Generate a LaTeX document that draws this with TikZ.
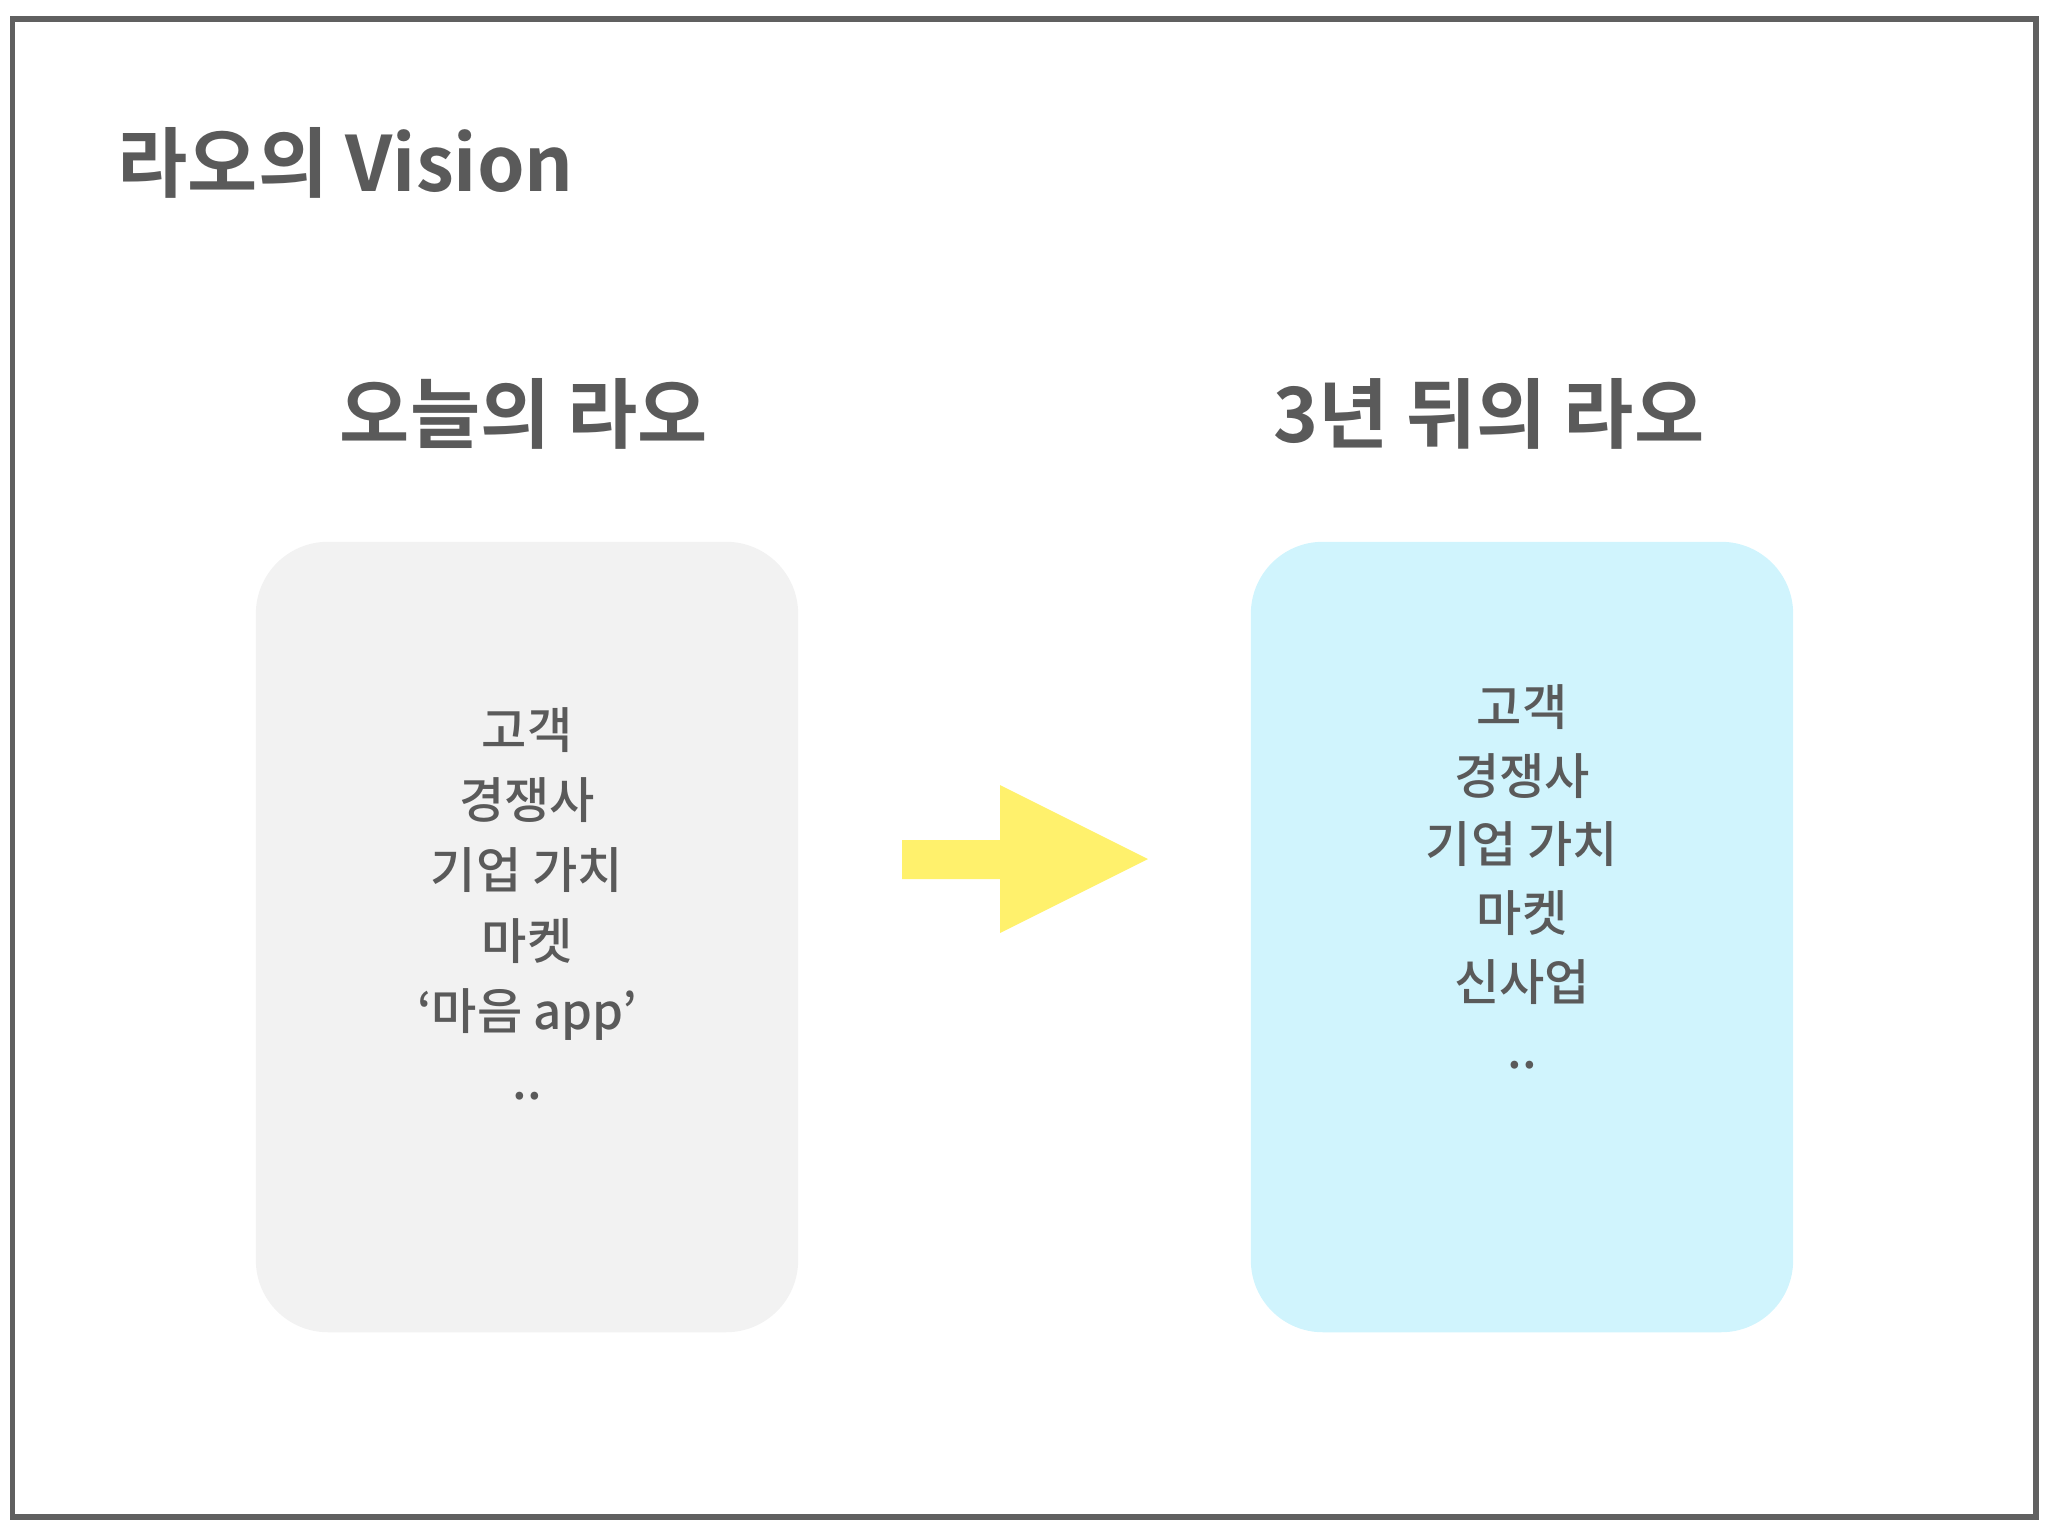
\documentclass[tikz,border=0pt]{standalone}
\usepackage{fontspec}
\setmainfont{Noto Sans CJK KR}
\newfontfamily\krbold{Noto Sans CJK KR Bold}
\newfontfamily\krmedium{Noto Sans CJK KR Medium}
\usepackage{tikz}
\usetikzlibrary{positioning}

\definecolor{inkgray}{HTML}{5A5A5A}
\definecolor{framegray}{HTML}{606060}
\definecolor{todaygray}{HTML}{F2F2F2}
\definecolor{futurecyan}{HTML}{D0F4FD}
\definecolor{arrowyellow}{HTML}{FFF16C}

\begin{document}
\begin{tikzpicture}[
  x=0.01cm, y=-0.01cm,
  heading/.style={font=\krbold\fontsize{21.7}{26}\selectfont, text=inkgray, inner sep=0pt},
  panel/.style={rectangle, rounded corners=0.72cm, minimum width=5.42cm,
                minimum height=7.9cm, inner sep=0pt},
  items/.style={font=\krmedium\fontsize{14}{20}\selectfont, text=inkgray, align=center, inner sep=0pt}
]
\useasboundingbox (0,0) rectangle (2048,1535);

%% Frame
\draw[framegray, line width=1.7pt] (12.5,19) rectangle (2036,1517);

%% Title
\node[heading, anchor=west] (title) at (117,163) {라오의 Vision};

%% Two columns
\node[heading] (todayhead) at (524,414) {오늘의 라오};
\node[heading] (futurehead) at (1489,414) {3년 뒤의 라오};

\node[panel, fill=todaygray] (today) at (527,937) {};
\node[panel, fill=futurecyan] (future) at (1522,937) {};

\node[items] (todaylist) at (527,904)
  {고객\\경쟁사\\기업 가치\\마켓\\‘마음 app’\\..};
\node[items, font=\krmedium\fontsize{14}{19.5}\selectfont] (futurelist) at (1522,877)
  {고객\\경쟁사\\기업 가치\\마켓\\신사업\\..};

%% Arrow
\fill[arrowyellow] (902,840) -- (1000,840) -- (1000,785) -- (1148,859)
  -- (1000,933) -- (1000,879) -- (902,879) -- cycle;
\end{tikzpicture}
\end{document}
